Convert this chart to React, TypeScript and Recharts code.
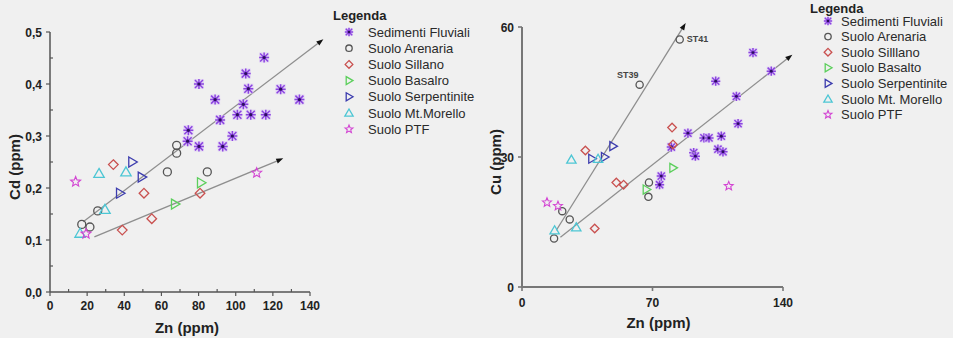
import React from 'react';
import { ScatterChart, Scatter, XAxis, YAxis, ReferenceLine } from 'recharts';

type Row = [number, number, string?];

// Cd vs Zn
const cdFluviali: Row[] = [
  [74.5, 0.311], [74.1, 0.29], [80.2, 0.4], [80.2, 0.28], [88.9, 0.37], [91.6, 0.331],
  [93, 0.28], [98.2, 0.3], [100.9, 0.341], [104.1, 0.361], [105.4, 0.42], [106.8, 0.391],
  [108.1, 0.341], [115.3, 0.451], [116.2, 0.341], [124.2, 0.39], [134.3, 0.37],
];
const cdArenaria: Row[] = [[17.1, 0.13], [21.5, 0.125], [25.7, 0.156], [63.2, 0.231], [68.2, 0.282], [68.2, 0.267], [84.7, 0.231]];
const cdSillano: Row[] = [[34.1, 0.245], [38.9, 0.119], [50.6, 0.19], [54.8, 0.141], [80.8, 0.19]];
const cdBasalto: Row[] = [[67.3, 0.169], [81.3, 0.21]];
const cdSerpentinite: Row[] = [[37.7, 0.19], [44.3, 0.25], [49.4, 0.221]];
const cdMorello: Row[] = [[16.2, 0.113], [26.4, 0.228], [29.6, 0.159], [40.9, 0.231]];
const cdPtf: Row[] = [[13.8, 0.212], [19.4, 0.112], [111.3, 0.229]];
const cdTrends: Row[][] = [
  [[17.9, 0.135], [147.2, 0.486]],
  [[23.9, 0.106], [125.6, 0.257]],
];

// Cu vs Zn
const cuFluviali: Row[] = [
  [73.8, 23.6], [74.7, 25.6], [80.1, 32.3], [89.0, 35.5], [92.1, 31.0], [93.0, 30.2],
  [97.6, 34.4], [100.3, 34.4], [103.9, 47.5], [105.1, 31.8], [106.9, 34.8], [107.8, 31.2],
  [115.0, 44.0], [115.9, 37.7], [123.9, 54.1], [133.7, 49.8],
];
const cuArenaria: Row[] = [[17.2, 11.2], [21.6, 17.5], [25.6, 15.6], [63.1, 46.7, 'ST39'], [67.8, 20.8], [68.1, 24.1], [84.6, 57.1, 'ST41']];
const cuSillano: Row[] = [[34.0, 31.5], [39.0, 13.5], [50.6, 24.1], [54.5, 23.6], [80.5, 36.8], [81.0, 32.9]];
const cuBasalto: Row[] = [[66.7, 22.5], [81.0, 27.5]];
const cuSerpentinite: Row[] = [[37.5, 29.6], [44.3, 30.0], [48.8, 32.5]];
const cuMorello: Row[] = [[17.5, 13.1], [26.5, 29.4], [29.1, 13.8], [40.8, 29.6]];
const cuPtf: Row[] = [[13.4, 19.5], [19.3, 18.7], [110.9, 23.3]];
const cuTrends: Row[][] = [
  [[18.4, 13.1], [87.8, 60.9]],
  [[20.6, 11.5], [145, 53.6]],
];

const cdXTicks = [0, 10, 20, 30, 40, 50, 60, 70, 80, 90, 100, 110, 120, 130, 140];
const cdYTicks = [0, 0.05, 0.1, 0.15, 0.2, 0.25, 0.3, 0.35, 0.4, 0.45, 0.5];
const cuXTicks = [0, 70, 140];
const cuYTicks = [0, 30, 60];

const cdNames = ['Sedimenti Fluviali', 'Suolo Arenaria', 'Suolo Sillano', 'Suolo Basalro', 'Suolo Serpentinite', 'Suolo Mt.Morello', 'Suolo PTF'];
const cuNames = ['Sedimenti Fluviali', 'Suolo Arenaria', 'Suolo Silllano', 'Suolo Basalto', 'Suolo Serpentinite', 'Suolo Mt. Morello', 'Suolo PTF'];

type Kind = 'asterisk' | 'circle' | 'diamond' | 'triRight' | 'triUp' | 'star';
const KINDS: Kind[] = ['asterisk', 'circle', 'diamond', 'triRight', 'triRight', 'triUp', 'star'];
const COLORS = ['#8c45e0', '#555555', '#c9504f', '#5ccf5c', '#3c3cae', '#4cc6d4', '#d345d3'];

const FONT = 'Liberation Sans, Arial, sans-serif';
const toPts = (rows: Row[]) => rows.map(([zn, v, tag]) => ({ zn, v, tag }));

function Marker({ kind, cx, cy, color, s = 1 }: { kind: Kind; cx: number; cy: number; color: string; s?: number }) {
  const sw = 1.3;
  switch (kind) {
    case 'asterisk': {
      const a = 4 * s;
      return (
        <g>
          <rect x={cx - 5 * s} y={cy - 5 * s} width={10 * s} height={10 * s} fill="#dcc8f5" opacity={0.7} />
          <path
            d={`M${cx - a} ${cy - a}L${cx + a} ${cy + a}M${cx - a} ${cy + a}L${cx + a} ${cy - a}M${cx} ${cy - a - 1}L${cx} ${cy + a + 1}M${cx - a - 1} ${cy}L${cx + a + 1} ${cy}`}
            stroke={color}
            strokeWidth={1.5}
          />
          <circle cx={cx} cy={cy} r={1.6 * s} fill="#2b0f5e" />
        </g>
      );
    }
    case 'circle':
      return <circle cx={cx} cy={cy} r={4 * s} fill="none" stroke={color} strokeWidth={sw} />;
    case 'diamond': {
      const r = 4.8 * s;
      return <path d={`M${cx} ${cy - r}L${cx + r} ${cy}L${cx} ${cy + r}L${cx - r} ${cy}Z`} fill="none" stroke={color} strokeWidth={sw} />;
    }
    case 'triRight':
      return (
        <path
          d={`M${cx - 3.5 * s} ${cy - 5 * s}L${cx + 5 * s} ${cy}L${cx - 3.5 * s} ${cy + 5 * s}Z`}
          fill="none"
          stroke={color}
          strokeWidth={sw}
        />
      );
    case 'triUp':
      return (
        <path
          d={`M${cx} ${cy - 5 * s}L${cx + 5.2 * s} ${cy + 4 * s}L${cx - 5.2 * s} ${cy + 4 * s}Z`}
          fill="none"
          stroke={color}
          strokeWidth={sw}
        />
      );
    default: {
      // five-pointed star outline
      const pts: string[] = [];
      for (let i = 0; i < 10; i++) {
        const r = (i % 2 === 0 ? 5.2 : 2.3) * s;
        const ang = -Math.PI / 2 + (i * Math.PI) / 5;
        pts.push(`${cx + r * Math.cos(ang)},${cy + r * Math.sin(ang)}`);
      }
      return <polygon points={pts.join(' ')} fill="none" stroke={color} strokeWidth={1.1} />;
    }
  }
}

// trend line with a small arrow head at its far end
const TrendArrow = (p: any) => {
  const { x1, y1, x2, y2 } = p;
  const ang = Math.atan2(y2 - y1, x2 - x1);
  const len = 7;
  const w = 2.6;
  const bx = x2 - len * Math.cos(ang);
  const by = y2 - len * Math.sin(ang);
  const nx = -Math.sin(ang) * w;
  const ny = Math.cos(ang) * w;
  return (
    <g>
      <line x1={x1} y1={y1} x2={bx} y2={by} stroke="#8e8e8e" strokeWidth={1.3} />
      <polygon points={`${x2},${y2} ${bx + nx},${by + ny} ${bx - nx},${by - ny}`} fill="#111" />
    </g>
  );
};

const tickText = { fontFamily: FONT, fontSize: 12, fontWeight: 700, fill: '#222' } as const;
const titleText = { fontFamily: FONT, fontSize: 15, fontWeight: 700, fill: '#222' } as const;

const CdXTick = (p: any) => {
  const { x, y, payload } = p;
  const major = payload.value % 20 === 0;
  return (
    <g>
      <line x1={x} x2={x} y1={y} y2={major ? y + 4 : y - 3} stroke="#555" strokeWidth={1.2} />
      {major && (
        <text x={x} y={y + 18} textAnchor="middle" style={tickText}>
          {payload.value}
        </text>
      )}
    </g>
  );
};

const CdYTick = (p: any) => {
  const { x, y, payload } = p;
  const major = Math.round(payload.value * 100) % 10 === 0;
  return (
    <g>
      <line x1={x} x2={major ? x - 4 : x + 3} y1={y} y2={y} stroke="#555" strokeWidth={1.2} />
      {major && (
        <text x={x - 8} y={y + 4.5} textAnchor="end" style={tickText}>
          {payload.value.toFixed(1).replace('.', ',')}
        </text>
      )}
    </g>
  );
};

const CuXTick = (p: any) => {
  const { x, y, payload } = p;
  return (
    <g>
      <line x1={x} x2={x} y1={y} y2={y + 4} stroke="#777" strokeWidth={1.6} />
      <text x={x} y={y + 20} textAnchor="middle" style={tickText}>
        {payload.value}
      </text>
    </g>
  );
};

const CuYTick = (p: any) => {
  const { x, y, payload } = p;
  return (
    <g>
      <line x1={x} x2={x - 4} y1={y} y2={y} stroke="#777" strokeWidth={1.6} />
      <text x={x - 8} y={y + 4.5} textAnchor="end" style={tickText}>
        {payload.value}
      </text>
    </g>
  );
};

function LegendBox({ names, left, top, titleX, titleY, symX, textX, rowY, rowH }: any) {
  return (
    <svg width={953 - left} height={140} style={{ position: 'absolute', left, top }}>
      <text x={titleX} y={titleY} style={{ fontFamily: FONT, fontSize: 13, fontWeight: 700, fill: '#222' }}>
        Legenda
      </text>
      {names.map((n: string, i: number) => (
        <g key={n}>
          <Marker kind={KINDS[i]} cx={symX} cy={rowY + i * rowH} color={COLORS[i]} s={0.8} />
          <text x={textX} y={rowY + i * rowH + 4.5} style={{ fontFamily: FONT, fontSize: 13, fill: '#2a2a2a' }}>
            {n}
          </text>
        </g>
      ))}
    </svg>
  );
}

const cdData = [cdFluviali, cdArenaria, cdSillano, cdBasalto, cdSerpentinite, cdMorello, cdPtf];
const cuData = [cuFluviali, cuArenaria, cuSillano, cuBasalto, cuSerpentinite, cuMorello, cuPtf];

export default function App() {
  return (
    <div style={{ position: 'absolute', left: 0, top: 0, width: 953, height: 338, background: '#f0f0f0', overflow: 'hidden' }}>
      <div style={{ position: 'absolute', left: 0, top: 0 }}>
        <ScatterChart width={330} height={338} margin={{ top: 32, right: 20, left: 0, bottom: 0 }}>
          <XAxis
            type="number"
            dataKey="zn"
            domain={[0, 140]}
            ticks={cdXTicks}
            interval={0}
            height={46}
            tickSize={0}
            tickMargin={0}
            tickLine={false}
            tick={<CdXTick />}
            axisLine={{ stroke: '#555', strokeWidth: 1.5 }}
            label={{
              content: ({ viewBox }: any) => (
                <text x={viewBox.x + viewBox.width / 2 + 7} y={viewBox.y + 41} textAnchor="middle" style={titleText}>
                  Zn (ppm)
                </text>
              ),
            }}
          />
          <YAxis
            type="number"
            dataKey="v"
            domain={[0, 0.5]}
            ticks={cdYTicks}
            interval={0}
            width={50}
            tickSize={0}
            tickMargin={0}
            tickLine={false}
            tick={<CdYTick />}
            axisLine={{ stroke: '#555', strokeWidth: 1.5 }}
            label={{
              content: ({ viewBox }: any) => {
                const cx = viewBox.x + 20;
                const cy = viewBox.y + viewBox.height / 2 + 5;
                return (
                  <text x={cx} y={cy} textAnchor="middle" transform={`rotate(-90 ${cx} ${cy})`} style={titleText}>
                    Cd (ppm)
                  </text>
                );
              },
            }}
          />
          {cdTrends.map((seg, i) => (
            <ReferenceLine
              key={i}
              segment={[{ x: seg[0][0], y: seg[0][1] }, { x: seg[1][0], y: seg[1][1] }]}
              ifOverflow="visible"
              shape={TrendArrow}
            />
          ))}
          {cdData.map((rows, i) => (
            <Scatter
              key={cdNames[i]}
              name={cdNames[i]}
              data={toPts(rows)}
              isAnimationActive={false}
              shape={(p: any) => <Marker kind={KINDS[i]} cx={p.cx} cy={p.cy} color={COLORS[i]} />}
            />
          ))}
        </ScatterChart>
      </div>
      <LegendBox names={cdNames} left={320} top={0} titleX={13} titleY={19.5} symX={29} textX={48} rowY={32} rowH={16.2} />

      <div style={{ position: 'absolute', left: 480, top: 0 }}>
        <ScatterChart width={320} height={338} margin={{ top: 27, right: 17, left: 0, bottom: 0 }}>
          <XAxis
            type="number"
            dataKey="zn"
            domain={[0, 140]}
            ticks={cuXTicks}
            interval={0}
            height={51}
            tickSize={0}
            tickMargin={0}
            tickLine={false}
            tick={<CuXTick />}
            axisLine={{ stroke: '#777', strokeWidth: 2 }}
            label={{
              content: ({ viewBox }: any) => (
                <text x={viewBox.x + viewBox.width / 2 + 6} y={viewBox.y + 41} textAnchor="middle" style={titleText}>
                  Zn (ppm)
                </text>
              ),
            }}
          />
          <YAxis
            type="number"
            dataKey="v"
            domain={[0, 60]}
            ticks={cuYTicks}
            interval={0}
            width={42}
            tickSize={0}
            tickMargin={0}
            tickLine={false}
            tick={<CuYTick />}
            axisLine={{ stroke: '#777', strokeWidth: 2 }}
            label={{
              content: ({ viewBox }: any) => {
                const cx = viewBox.x + 21;
                const cy = viewBox.y + viewBox.height / 2 + 5;
                return (
                  <text x={cx} y={cy} textAnchor="middle" transform={`rotate(-90 ${cx} ${cy})`} style={titleText}>
                    Cu (ppm)
                  </text>
                );
              },
            }}
          />
          {cuTrends.map((seg, i) => (
            <ReferenceLine
              key={i}
              segment={[{ x: seg[0][0], y: seg[0][1] }, { x: seg[1][0], y: seg[1][1] }]}
              ifOverflow="visible"
              shape={TrendArrow}
            />
          ))}
          {cuData.map((rows, i) => (
            <Scatter
              key={cuNames[i]}
              name={cuNames[i]}
              data={toPts(rows)}
              isAnimationActive={false}
              shape={(p: any) => {
                const tag = p.payload?.tag;
                return (
                  <g>
                    <Marker kind={KINDS[i]} cx={p.cx} cy={p.cy} color={COLORS[i]} s={0.9} />
                    {tag && (
                      <text
                        x={tag === 'ST39' ? p.cx - 1 : p.cx + 7}
                        y={tag === 'ST39' ? p.cy - 7 : p.cy + 2}
                        textAnchor={tag === 'ST39' ? 'end' : 'start'}
                        style={{ fontFamily: FONT, fontSize: 9, fontWeight: 700, fill: '#444' }}
                      >
                        {tag}
                      </text>
                    )}
                  </g>
                );
              }}
            />
          ))}
        </ScatterChart>
      </div>
      <LegendBox names={cuNames} left={800} top={0} titleX={10} titleY={12.5} symX={28} textX={41} rowY={21} rowH={15.6} />
    </div>
  );
}
